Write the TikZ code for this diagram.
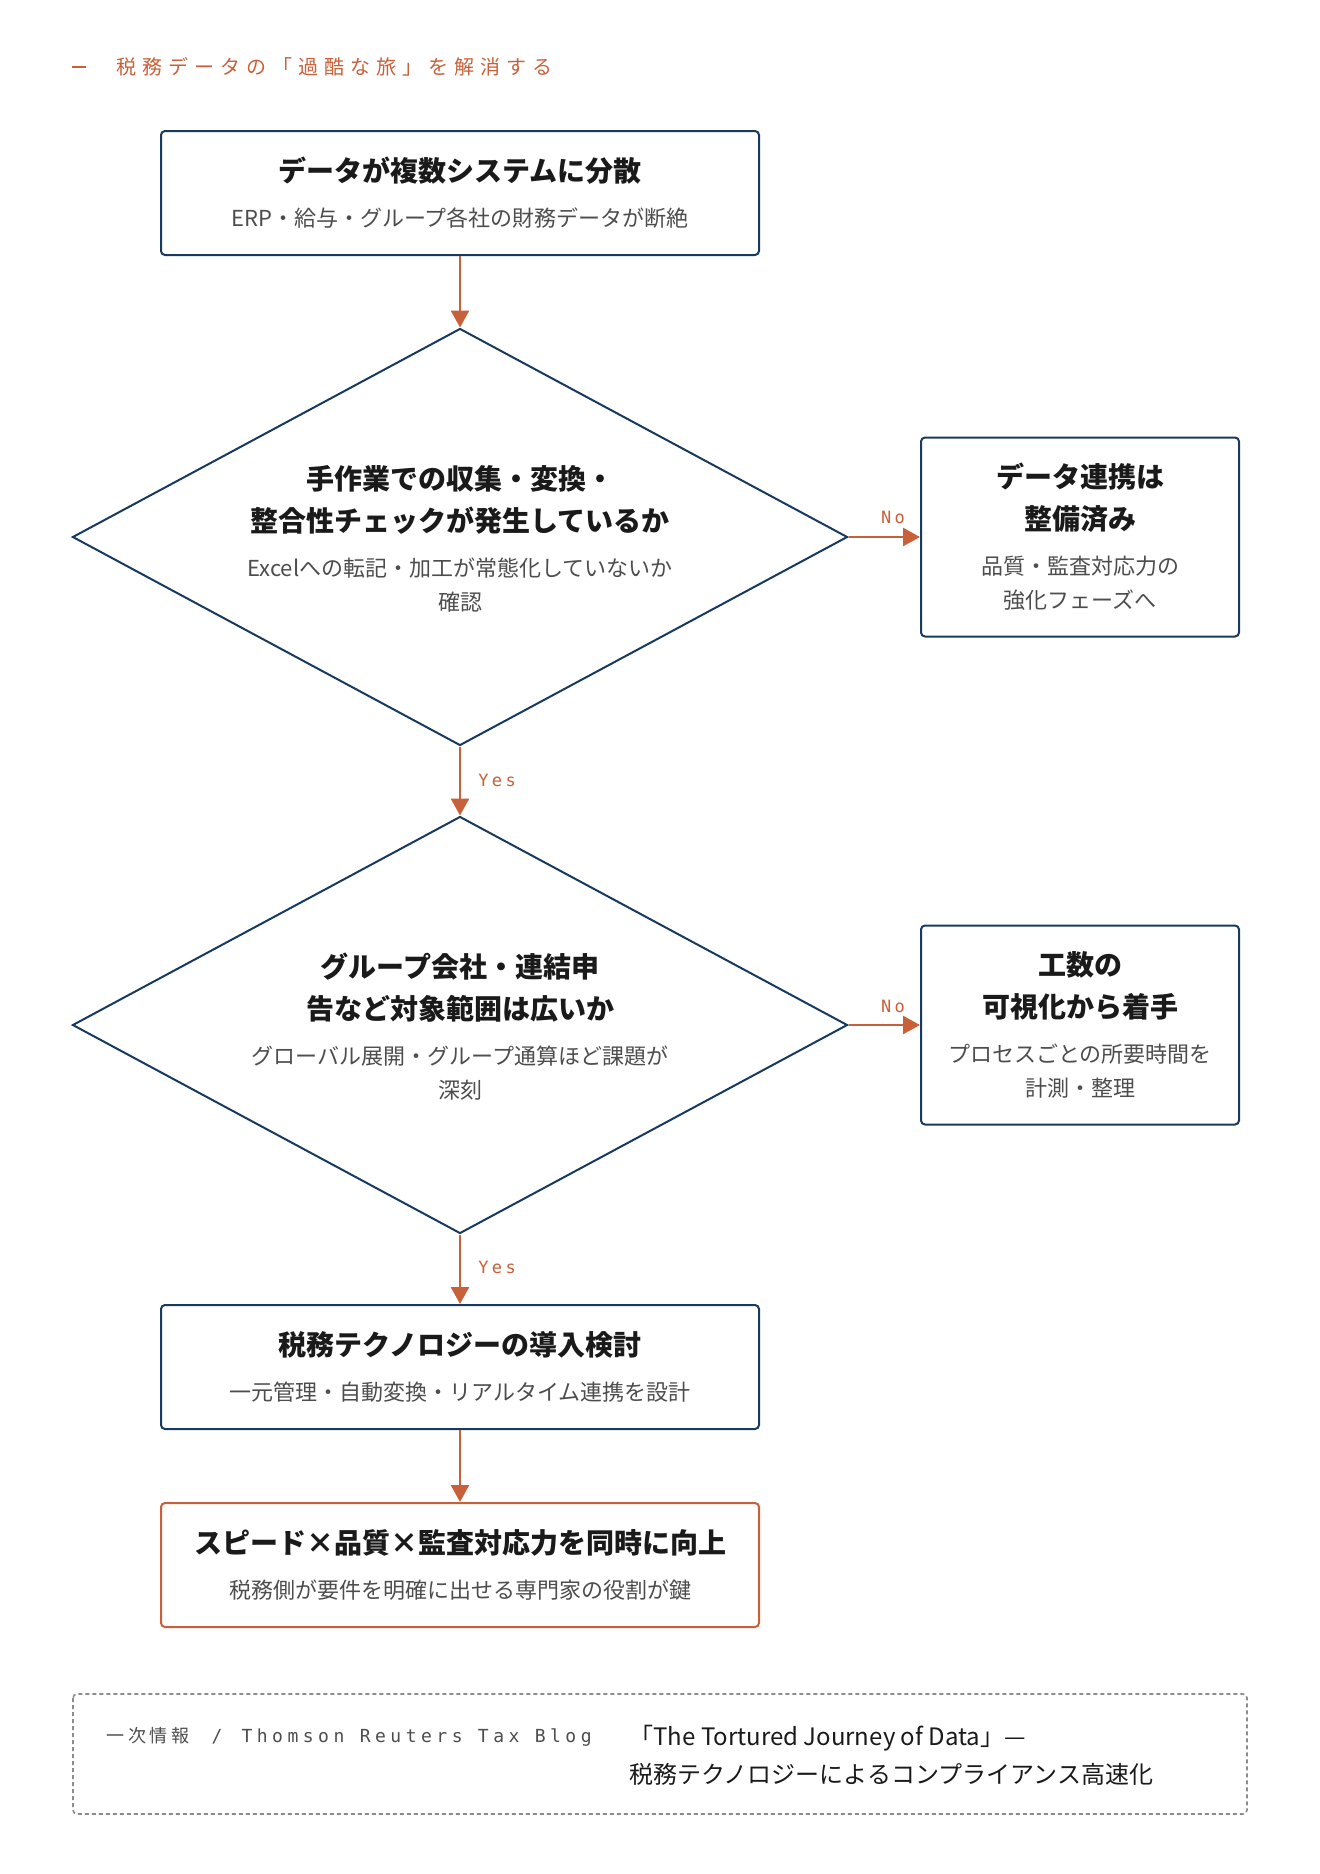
\documentclass[tikz,border=0pt]{standalone}
\usepackage{fontspec}
\usepackage{tikz}
\usetikzlibrary{arrows.meta,shapes.geometric}
\setmainfont{Noto Sans CJK JP}
\newfontfamily\monofont{DejaVu Sans Mono}[LetterSpace=20]
\newfontfamily\sourcemono{DejaVu Sans Mono}[LetterSpace=25]
\newfontfamily\kickerfont{Noto Sans CJK JP}[LetterSpace=30]
\newfontfamily\sourcecjk{Noto Sans CJK JP}[LetterSpace=21]
\definecolor{navy}{HTML}{173A5E}
\definecolor{orange}{HTML}{C8613A}
\definecolor{ink}{HTML}{1A1A1A}
\definecolor{muted}{HTML}{4D4D4D}
\definecolor{dashgray}{HTML}{8C8C8C}
\newcommand\steptitle[1]{{\fontsize{14}{17}\selectfont\bfseries\color{ink}#1}}
\newcommand\stepnote[1]{{\color{muted}#1}}

\begin{document}
\begin{tikzpicture}[
  x=0.5pt,
  y=-0.5pt,
  stepbox/.style={
    draw=navy,line width=1pt,rounded corners=2pt,fill=white,align=center,
    minimum width=299pt,minimum height=62pt,inner sep=0pt,
    font=\fontsize{11}{17}\selectfont
  },
  sidebox/.style={stepbox,minimum width=159pt,minimum height=99.5pt},
  goalbox/.style={stepbox,draw=orange},
  decision/.style={
    diamond,draw=navy,line width=1pt,inner sep=0pt,
    minimum width=387.5pt,minimum height=208.5pt
  },
  decisiontext/.style={align=center,inner sep=0pt,font=\fontsize{11}{17}\selectfont},
  flow/.style={
    -{Triangle[length=8.5pt,width=9pt]},line width=1.3pt,draw=orange
  },
  branch/.style={font=\monofont\fontsize{8.5}{10}\selectfont,text=orange},
  sourcenote/.style={inner sep=0pt,anchor=west,text=muted}
]
  \fill[white] (0,0) rectangle (1320,1874);
  \useasboundingbox (0,0) rectangle (1320,1874);

  \node[anchor=west,inner sep=0pt,text=orange] (kicker-dash) at (72,67) {\rule{7pt}{1.3pt}};
  \node[anchor=west,inner sep=0pt,text=orange,font=\kickerfont\fontsize{10}{12}\selectfont]
    (kicker) at (116,67) {税務データの「過酷な旅」を解消する};

  \node[stepbox] (scatter) at (460,193)
    {\steptitle{データが複数システムに分散}\\[5.5pt]
     \stepnote{ERP・給与・グループ各社の財務データが断絶}};

  \node[decision] (manual) at (460,537) {};
  \node[decisiontext] (manual-text) at (460,539)
    {\steptitle{手作業での収集・変換・}\\[4pt]
     \steptitle{整合性チェックが発生しているか}\\[5.5pt]
     \stepnote{Excelへの転記・加工が常態化していないか}\\
     \stepnote{確認}};
  \node[sidebox] (linked) at (1080,537)
    {\steptitle{データ連携は}\\[4pt]
     \steptitle{整備済み}\\[5.5pt]
     \stepnote{品質・監査対応力の}\\
     \stepnote{強化フェーズへ}};

  \node[decision] (scope) at (460,1025) {};
  \node[decisiontext] (scope-text) at (460,1027)
    {\steptitle{グループ会社・連結申}\\[4pt]
     \steptitle{告など対象範囲は広いか}\\[5.5pt]
     \stepnote{グローバル展開・グループ通算ほど課題が}\\
     \stepnote{深刻}};
  \node[sidebox] (effort) at (1080,1025)
    {\steptitle{工数の}\\[4pt]
     \steptitle{可視化から着手}\\[5.5pt]
     \stepnote{プロセスごとの所要時間を}\\
     \stepnote{計測・整理}};

  \node[stepbox] (taxtech) at (460,1367)
    {\steptitle{税務テクノロジーの導入検討}\\[5.5pt]
     \stepnote{一元管理・自動変換・リアルタイム連携を設計}};
  \node[goalbox] (result) at (460,1565)
    {\steptitle{スピード×品質×監査対応力を同時に向上}\\[5.5pt]
     \stepnote{税務側が要件を明確に出せる専門家の役割が鍵}};

  \draw[flow] (scatter) -- (manual);
  \draw[flow] (manual) -- (linked);
  \draw[flow] (manual) -- (scope);
  \draw[flow] (scope) -- (effort);
  \draw[flow] (scope) -- (taxtech);
  \draw[flow] (taxtech) -- (result);
  \node[branch] (no-a) at (893,517) {No};
  \node[branch] (yes-a) at (497,780) {Yes};
  \node[branch] (no-b) at (893,1006) {No};
  \node[branch] (yes-b) at (497,1267) {Yes};

  \path[draw=dashgray,line width=0.8pt,dash pattern=on 2pt off 1.5pt,rounded corners=2pt]
    (73,1694) rectangle (1247,1814);
  \node[sourcenote,font=\fontsize{9}{11}\selectfont] (source) at (106,1737)
    {{\sourcecjk 一次情報}\hspace{11pt}{\sourcemono /\hspace{9.5pt}Thomson Reuters Tax Blog}};
  \node[sourcenote,align=left,text=ink,font=\fontsize{12}{19}\selectfont] (source-title) at (629,1755)
    {「The Tortured Journey of Data」—\\税務テクノロジーによるコンプライアンス高速化};
\end{tikzpicture}
\end{document}
